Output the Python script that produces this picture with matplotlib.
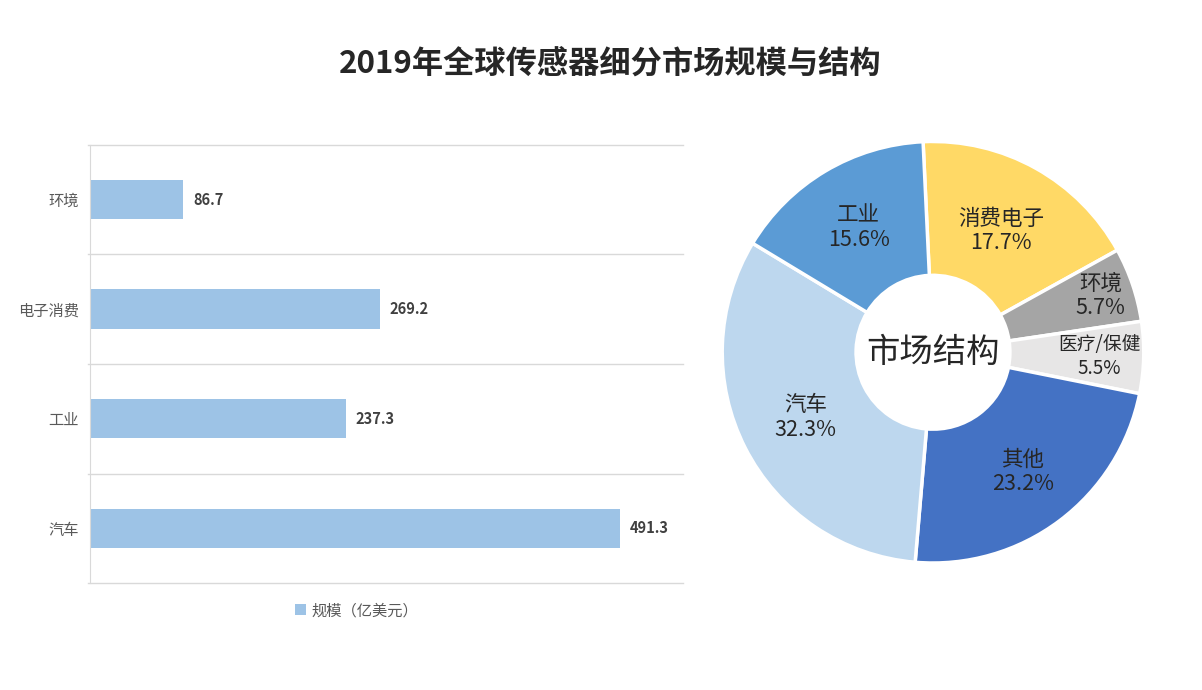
import matplotlib
matplotlib.use("Agg")
import matplotlib.pyplot as plt
import numpy as np

plt.rcParams['font.family'] = ['Noto Sans CJK SC', 'DejaVu Sans']

# bar data
bar_cats = ["汽车", "工业", "电子消费", "环境"]
bar_vals = [491.3, 237.3, 269.2, 86.7]
bar_legend = "规模（亿美元）"

# pie data (clockwise from top)
pie_cats = ["消费电子", "环境", "医疗/保健", "其他", "汽车", "工业"]
pie_vals = [17.7, 5.7, 5.5, 23.2, 32.3, 15.6]
pie_colors = ['#FFD966', '#A5A5A5', '#E7E6E6', '#4472C4', '#BDD7EE', '#5B9BD5']
label_r = [0.66, 0.84, 0.79, 0.71, 0.68, 0.69]

fig = plt.figure(figsize=(12.02, 6.9), dpi=100)
fig.text(0.508, 0.908, "2019年全球传感器细分市场规模与结构", ha='center', va='center',
         fontsize=22.5, fontweight='bold', color='#262626')

# ---- bar chart ----
ax = fig.add_axes([0.0749, 0.155, 0.4933, 0.635])
y = np.arange(len(bar_cats))
bars = ax.barh(y, bar_vals, height=0.36, color='#9DC3E6', label=bar_legend)
ax.set_xlim(0, 550)
ax.set_ylim(-0.5, len(bar_cats) - 0.5)
ax.set_yticks(y)
ax.set_yticklabels(bar_cats, fontsize=11, color='#595959')
ax.tick_params(axis='y', length=0, pad=8)
ax.set_xticks([])
for b in np.arange(-0.5, len(bar_cats), 1.0):
    ax.plot([-0.004, 1], [b, b], transform=ax.get_yaxis_transform(), color='#D9D9D9',
            lw=1, clip_on=False)
for s in ['top', 'right', 'bottom']:
    ax.spines[s].set_visible(False)
ax.spines['left'].set_color('#D9D9D9')
for rect, v in zip(bars, bar_vals):
    ax.text(rect.get_width() + 9, rect.get_y() + rect.get_height() / 2, f"{v:.1f}",
            va='center', ha='left', fontsize=10.5, fontweight='bold', color='#404040')
ax.legend(loc='upper center', bbox_to_anchor=(0.45, -0.012), frameon=False, fontsize=11,
          handlelength=0.7, handleheight=0.7, handletextpad=0.4, labelcolor='#595959')

# ---- donut ----
pax = fig.add_axes([0.599, 0.181, 0.3544, 0.617])
wedges, _ = pax.pie(pie_vals, colors=pie_colors, startangle=92.7, counterclock=False,
                    wedgeprops=dict(width=0.635, edgecolor='white', linewidth=2.5))
pax.set_xlim(-1.01, 1.01)
pax.set_ylim(-1.01, 1.01)
for w, name, v, r in zip(wedges, pie_cats, pie_vals, label_r):
    ang = np.deg2rad((w.theta1 + w.theta2) / 2)
    fs = 13.5 if len(name) > 4 else 15.5
    pax.text(r * np.cos(ang), r * np.sin(ang), f"{name}\n{v}%", ha='center', va='center',
             fontsize=fs, color='#262626', linespacing=1.15)
pax.text(0, 0, "市场结构", ha='center', va='center', fontsize=24, color='#262626')

fig.savefig("out.png", dpi=100)
